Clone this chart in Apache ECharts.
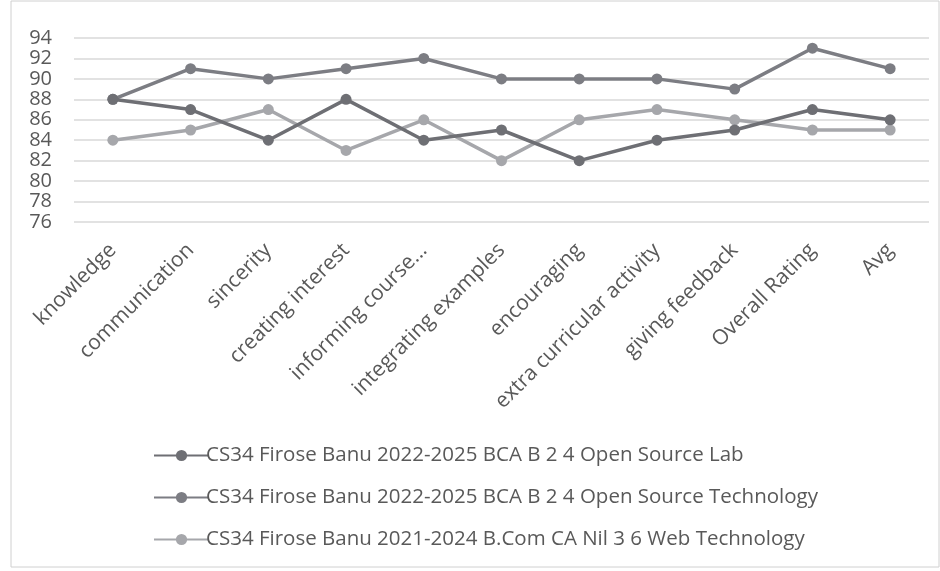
<!DOCTYPE html>
<html><head><meta charset="utf-8">
<script src="https://cdn.jsdelivr.net/npm/echarts@6/dist/echarts.min.js"></script>
<style>html,body{margin:0;padding:0;background:#fff}#c{width:940px;height:571px}</style>
</head><body><div id="c"></div>
<script>
const categories = ["knowledge","communication","sincerity","creating interest","informing course...","integrating examples","encouraging","extra curricular activity","giving feedback","Overall Rating","Avg"];
const seriesNames = ["CS34 Firose Banu 2022-2025 BCA B 2 4 Open Source Lab","CS34 Firose Banu 2022-2025 BCA B 2 4 Open Source Technology","CS34 Firose Banu 2021-2024 B.Com CA Nil 3 6 Web Technology"];
const openSourceLab = [88,87,84,88,84,85,82,84,85,87,86];
const openSourceTech = [88,91,90,91,92,90,90,90,89,93,91];
const webTech = [84,85,87,83,86,82,86,87,86,85,85];
const yTicks = {min:76, max:94, interval:2};
const colors = ["#6e6f74","#7c7d83","#a6a7ab"];
const FONT = "'Open Sans',sans-serif";
const chart = echarts.init(document.getElementById('c'));
const mk = (name, data, i) => ({
  name, type:'line', data, symbol:'circle', symbolSize:11,
  lineStyle:{width:3.5,color:colors[i]}, itemStyle:{color:colors[i]}, z: 3-i
});
chart.setOption({
  animation:false,
  graphic:[{type:'rect',shape:{x:11,y:1,width:928,height:566},style:{fill:'none',stroke:'#d0d0d0',lineWidth:1}}],
  grid:{left:74,right:11,top:38,bottom:349},
  xAxis:{type:'category',data:categories,boundaryGap:true,
    axisLine:{show:false},axisTick:{show:false},
    axisLabel:{rotate:45,interval:0,color:'#595959',fontSize:21,fontFamily:FONT,margin:25}},
  yAxis:{type:'value',min:yTicks.min,max:yTicks.max,interval:yTicks.interval,
    axisLine:{show:false},axisTick:{show:false},
    axisLabel:{color:'#595959',fontSize:20,fontFamily:FONT,margin:22},
    splitLine:{lineStyle:{color:'#d9d9d9',width:1.5}}},
  legend:{orient:'vertical',left:148,top:440,itemGap:21,itemWidth:55,itemHeight:14,
    textStyle:{color:'#595959',fontSize:20.5,fontFamily:FONT,padding:[0,0,0,-8]},
    data:seriesNames},
  series:[mk(seriesNames[0],openSourceLab,0),mk(seriesNames[1],openSourceTech,1),mk(seriesNames[2],webTech,2)]
});
</script></body></html>
